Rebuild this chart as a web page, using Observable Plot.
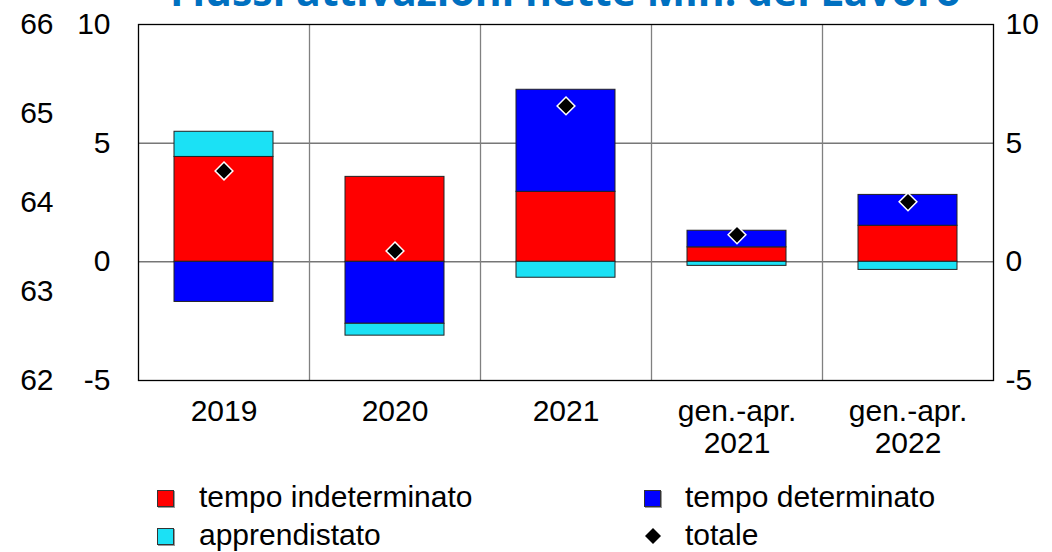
<!DOCTYPE html>
<html>
<head>
<meta charset="utf-8">
<script src="https://cdn.jsdelivr.net/npm/d3@7"></script>
<script src="https://cdn.jsdelivr.net/npm/@observablehq/plot@0.6"></script>
<style>
  html, body { margin: 0; padding: 0; background: white; overflow: hidden; }
  #wrap { position: relative; width: 1052px; height: 552px; font-family: "Liberation Sans", Arial, sans-serif; }
  #title { position: absolute; top: -30px; left: 138px; width: 855px; text-align: center;
           font-family: "Open Sans", sans-serif; font-weight: 700; font-size: 41px; line-height: 41px;
           color: #0070C0; white-space: nowrap; }
  #chart { position: absolute; top: 0; left: 0; }
  .lg { position: absolute; font-size: 30px; line-height: 30px; color: #000; white-space: nowrap; }
  .sw { position: absolute; width: 15px; height: 15px; border: 1px solid #333; box-shadow: 1px 1px 0 #999; }
</style>
</head>
<body>
<div id="wrap">
  <div id="chart"></div>
  <div id="title">Flussi attivazioni nette Min. del Lavoro</div>
  <div id="legend"></div>
</div>
<script>
// ---- data ----
const categories = ["2019", "2020", "2021", "gen.-apr. 2021", "gen.-apr. 2022"];
const tickLabels = ["2019", "2020", "2021", "gen.-apr.\n2021", "gen.-apr.\n2022"];
const seriesNames = ["tempo indeterminato", "tempo determinato", "apprendistato"];
const indeterminato = [4.42, 3.58, 2.95, 0.61, 1.52];
const determinato = [-1.69, -2.61, 4.30, 0.70, 1.30];
const apprendistato = [1.06, -0.50, -0.67, -0.17, -0.34];
const totale = [3.83, 0.46, 6.57, 1.14, 2.53];
const yTicks = [-5, 0, 5, 10];
const outerTicks = [62, 63, 64, 65, 66];
const gridValues = [0, 5];
const seriesColors = ["#FF0000", "#0000FF", "#1BE1F5"];

// ---- build table ----
const seriesValues = [indeterminato, determinato, apprendistato];
const rows = [];
categories.forEach((c, i) => {
  seriesNames.forEach((s, j) => rows.push({cat: c, series: s, value: seriesValues[j][i]}));
});
const totals = categories.map((c, i) => ({cat: c, value: totale[i]}));

const W = 1052, H = 470, ML = 138, MR = 59, MT = 24, MB = 90;
const step = (W - ML - MR) / categories.length;
const yMin = yTicks[0], yMax = yTicks[yTicks.length - 1];
const oMin = outerTicks[0], oMax = outerTicks[outerTicks.length - 1];
const outerToY = v => yMin + (v - oMin) * (yMax - yMin) / (oMax - oMin);
const yToOuter = y => String(Math.round(oMin + (y - yMin) * (oMax - oMin) / (yMax - yMin)));
const plain = d => String(d);

const chart = Plot.plot({
  width: W, height: H,
  marginLeft: ML, marginRight: MR, marginTop: MT, marginBottom: MB,
  style: {fontSize: "30px", fontFamily: "'Liberation Sans', Arial, sans-serif", color: "#000", background: "white"},
  x: {domain: categories, paddingInner: 0.42, paddingOuter: 0.21},
  y: {domain: [yMin, yMax]},
  color: {domain: seriesNames, range: seriesColors},
  marks: [
    Plot.ruleY(gridValues, {stroke: "#333", strokeWidth: 1}),
    Plot.ruleX(categories.slice(1), {x: d => d, dx: -step / 2, stroke: "#808080", strokeWidth: 1.3}),
    Plot.barY(rows, Plot.stackY({x: "cat", y: "value", fill: "series", stroke: "#222", strokeWidth: 1})),
    Plot.dot(totals, {x: "cat", y: "value", symbol: "diamond2", r: 8, fill: "black", stroke: "white", strokeWidth: 1.5}),
    Plot.frame({stroke: "black", strokeWidth: 1.3}),
    Plot.axisY(yTicks, {anchor: "left", tickSize: 0, tickPadding: 28, label: null, tickFormat: plain}),
    Plot.axisY(outerTicks.map(outerToY), {anchor: "left", tickSize: 0, tickPadding: 85, label: null, tickFormat: yToOuter}),
    Plot.axisY(yTicks, {anchor: "right", tickSize: 0, tickPadding: 12, label: null, tickFormat: plain}),
    Plot.axisX({tickSize: 0, tickPadding: 18, label: null, lineHeight: 1.07,
                tickFormat: d => tickLabels[categories.indexOf(d)]})
  ]
});
document.getElementById("chart").appendChild(chart);

// ---- legend ----
const legend = document.getElementById("legend");
const items = [
  {label: seriesNames[0], color: seriesColors[0], sx: 157, tx: 199, cy: 498},
  {label: seriesNames[1], color: seriesColors[1], sx: 644, tx: 685, cy: 498},
  {label: seriesNames[2], color: seriesColors[2], sx: 157, tx: 199, cy: 536},
  {label: "totale", color: null, sx: 644, tx: 685, cy: 536}
];
items.forEach(it => {
  if (it.color) {
    const s = document.createElement("div");
    s.className = "sw";
    s.style.left = it.sx + "px";
    s.style.top = (it.cy - 8) + "px";
    s.style.background = it.color;
    legend.appendChild(s);
  } else {
    const s = document.createElementNS("http://www.w3.org/2000/svg", "svg");
    s.setAttribute("width", 18); s.setAttribute("height", 18);
    s.style.position = "absolute"; s.style.left = (it.sx) + "px"; s.style.top = (it.cy - 9) + "px";
    s.innerHTML = '<path d="M9,1 L17,9 L9,17 L1,9 Z" fill="black"/>';
    legend.appendChild(s);
  }
  const t = document.createElement("div");
  t.className = "lg";
  t.style.left = it.tx + "px";
  t.style.top = (it.cy - 16) + "px";
  t.textContent = it.label;
  legend.appendChild(t);
});
</script>
</body>
</html>
